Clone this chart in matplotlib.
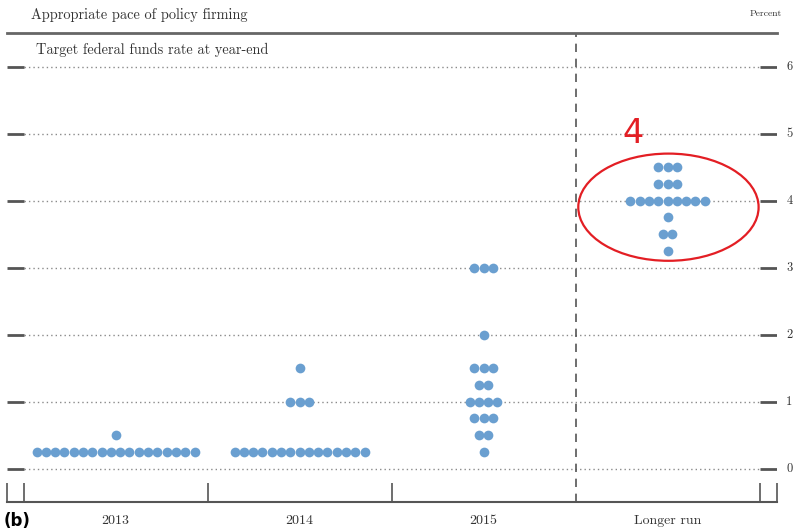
import matplotlib
matplotlib.use('Agg')
import matplotlib.pyplot as plt
from matplotlib.patches import Ellipse

# dados: uma lista de (taxa, quantidade) para cada horizonte
categorias = ['2013', '2014', '2015', 'Longer run']
taxas_2013 = [0.25, 0.5]
contagem_2013 = [18, 1]
taxas_2014 = [0.25, 1.0, 1.5]
contagem_2014 = [15, 3, 1]
taxas_2015 = [0.25, 0.5, 0.75, 1.0, 1.25, 1.5, 2.0, 3.0]
contagem_2015 = [1, 2, 3, 4, 2, 3, 1, 3]
taxas_longo = [3.25, 3.5, 3.75, 4.0, 4.25, 4.5]
contagem_longo = [1, 2, 1, 9, 3, 3]
yticks = [0, 1, 2, 3, 4, 5, 6]

series = [(taxas_2013, contagem_2013), (taxas_2014, contagem_2014),
          (taxas_2015, contagem_2015), (taxas_longo, contagem_longo)]

W, H = 797, 532
fig = plt.figure(figsize=(W / 100, H / 100), dpi=100)
ax = fig.add_axes([7 / W, (H - 502) / H, 770 / W, 469 / H])

serif = 'cmr10'
cinza = '#555555'
azul = '#6a9fd0'
passo = 0.0505

ax.set_xlim(-0.59, 3.595)
ax.set_ylim(-0.5, 6.5)

# linhas de grade pontilhadas e marcas solidas nas pontas
for y in yticks:
    ax.plot([-0.5, 3.5], [y, y], ls=(0, (1, 2.2)), color='#8a8a8a', lw=1.0, zorder=1)
    ax.plot([-0.59, -0.5], [y, y], color=cinza, lw=2, solid_capstyle='butt', zorder=1)
    ax.plot([3.5, 3.595], [y, y], color=cinza, lw=2, solid_capstyle='butt', zorder=1)
    ax.text(3.595 + 0.05, y, str(y), fontname=serif, fontsize=9, color='#333333',
            va='center', ha='left', clip_on=False)

# pontos
for i, (taxas, contagem) in enumerate(series):
    for t, n in zip(taxas, contagem):
        xs = [i + (k - (n - 1) / 2) * passo for k in range(n)]
        ax.plot(xs, [t] * n, 'o', color=azul, ms=7, mec='none', zorder=3)

# linha tracejada antes do longo prazo
ax.axvline(2.5, color=cinza, lw=1.2, ls=(0, (5, 4)), zorder=2)

# eixo inferior
for s in ['left', 'right']:
    ax.spines[s].set_visible(False)
ax.spines['top'].set_color('#666666')
ax.spines['top'].set_linewidth(2)
ax.spines['bottom'].set_color(cinza)
ax.spines['bottom'].set_linewidth(1.5)
ax.set_yticks([])
ax.set_xticks([-0.59, -0.5, 0.5, 1.5, 3.5, 3.595])
ax.set_xticklabels([])
ax.tick_params(axis='x', direction='in', length=13.5, width=1.2, color=cinza)
ax.set_xticks(range(len(categorias)), minor=True)
ax.set_xticklabels(categorias, minor=True, fontname=serif, fontsize=10, color='#333333')
ax.tick_params(axis='x', which='minor', length=0, pad=9)

# textos do topo
fig.text(31 / W, 1 - 15 / H, 'Appropriate pace of policy firming', fontname=serif,
         fontsize=10.3, color='#333333', va='center', ha='left')
fig.text(782 / W, 1 - 14 / H, 'Percent', fontname=serif, fontsize=7,
         color='#333333', va='center', ha='right')
ax.text(-0.435, 6.25, 'Target federal funds rate at year-end', fontname=serif,
        fontsize=10.3, color='#333333', va='center', ha='left')

# destaque em vermelho
ax.add_patch(Ellipse((3.005, 3.9), 0.98, 1.6, fill=False, ec='#e31e24', lw=1.6, zorder=4))
ax.text(2.815, 5.0, '4', color='#e31e24', fontsize=24, ha='center', va='center')

# rotulo do painel, no canto inferior (cortado no original)
fig.text(4 / W, 2 / H, '(b)', fontsize=12, fontweight='bold', va='bottom', ha='left')

fig.savefig('out.png', dpi=100)
